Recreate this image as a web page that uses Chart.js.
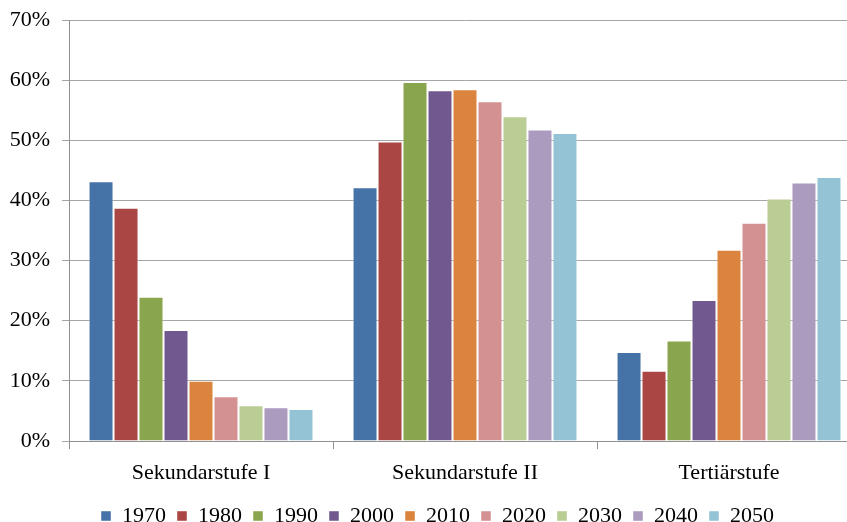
<!DOCTYPE html>
<html>
<head>
<meta charset="utf-8">
<script src="https://cdn.jsdelivr.net/npm/chart.js@4/dist/chart.umd.min.js"></script>
<style>
  html, body { margin: 0; padding: 0; background: #fff; overflow: hidden; }
  #wrap { width: 880px; height: 522px; }
</style>
</head>
<body>
<div id="wrap"><canvas id="chart" width="880" height="522"></canvas></div>
<script>
// Categories and series (percent values)
const categories = ['Sekundarstufe I', 'Sekundarstufe II', 'Tertiärstufe'];
const years = ['1970', '1980', '1990', '2000', '2010', '2020', '2030', '2040', '2050'];

const v1970 = [43.2, 42.2, 14.8];
const v1980 = [38.8, 49.8, 11.7];
const v1990 = [24.0, 59.7, 16.7];
const v2000 = [18.45, 58.3, 23.45];
const v2010 = [10.0, 58.5, 31.8];
const v2020 = [7.45, 56.5, 36.3];
const v2030 = [5.95, 54.0, 40.3];
const v2040 = [5.6, 51.8, 43.0];
const v2050 = [5.33, 51.2, 43.9];

const yTicks = [0, 10, 20, 30, 40, 50, 60, 70];

const seriesValues = [v1970, v1980, v1990, v2000, v2010, v2020, v2030, v2040, v2050];
const colors = ['#4572a7', '#aa4643', '#89a54e', '#71588f', '#db843d',
                '#d39291', '#bacd95', '#aa9bbf', '#93c3d5'];

const serif = 'Liberation Serif, "Times New Roman", serif';

const datasets = years.map((y, i) => ({
    label: y,
    data: seriesValues[i],
    backgroundColor: colors[i],
    borderColor: 'rgba(255,255,255,0.45)',
    borderWidth: 1,
    borderSkipped: 'bottom'
}));

// nudge the legend a little to the right, like the original
const legendShift = {
    id: 'legendShift',
    afterLayout(chart) {
        if (chart.legend) {
            chart.legend.left += 7;
            chart.legend.right += 7;
        }
    }
};

new Chart(document.getElementById('chart'), {
    type: 'bar',
    data: { labels: categories, datasets: datasets },
    plugins: [legendShift],
    options: {
        responsive: false,
        animation: false,
        layout: { padding: { top: 20, right: 19, left: 0, bottom: -15 } },
        datasets: { bar: { categoryPercentage: 0.852, barPercentage: 1 } },
        scales: {
            x: {
                grid: { drawOnChartArea: false, drawTicks: true, tickLength: 8, color: '#909090', offset: true },
                border: { color: '#909090', width: 1 },
                ticks: { color: '#000', font: { family: serif, size: 22 }, padding: 11 },
                afterFit: scale => { scale.height = 53; }
            },
            y: {
                min: 0,
                max: 70,
                afterBuildTicks: scale => { scale.ticks = yTicks.map(v => ({ value: v })); },
                grid: { color: '#a6a6a6', tickLength: 7 },
                border: { color: '#909090', width: 1 },
                ticks: {
                    color: '#000',
                    font: { family: serif, size: 22 },
                    padding: 12,
                    callback: v => v + '%'
                },
                afterFit: scale => {
                    scale.width = 69;
                    // keep the 70% line at the top padding, label may overhang
                    scale.paddingTop = 0;
                }
            }
        },
        plugins: {
            legend: {
                position: 'bottom',
                labels: {
                    color: '#000',
                    font: { family: serif, size: 22 },
                    boxWidth: 10,
                    boxHeight: 10,
                    padding: 11
                }
            },
            tooltip: { enabled: false }
        }
    }
});
</script>
</body>
</html>
